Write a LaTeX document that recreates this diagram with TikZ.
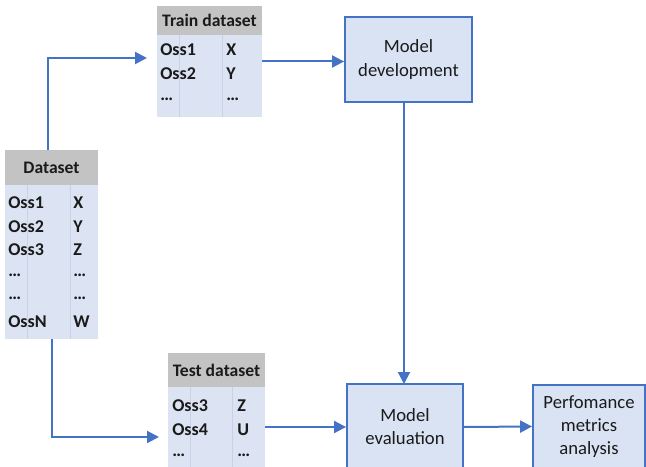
\documentclass[tikz,border=0pt]{standalone}
\usepackage{fontspec}
\setmainfont{Carlito}
\usetikzlibrary{arrows.meta,fit}
\definecolor{boxfill}{HTML}{DAE3F3}
\definecolor{boxline}{HTML}{4472C4}
\definecolor{tabfill}{HTML}{DCE4F3}
\definecolor{hdrfill}{HTML}{C3C3C3}
\definecolor{divline}{HTML}{C8D2E6}
\definecolor{txtcol}{HTML}{1A1A1A}
\tikzset{
  procbox/.style={draw=boxline, fill=boxfill, line width=1.4pt, align=center,
    text=txtcol, font=\fontsize{14}{17.3}\selectfont, inner sep=0pt},
  cell/.style={font=\bfseries\fontsize{13.5}{14}\selectfont, text=txtcol, inner sep=0pt, anchor=west},
  hdrtxt/.style={font=\bfseries\fontsize{13.2}{14}\selectfont, text=txtcol, inner sep=0pt},
  tabbody/.style={fill=tabfill},
  tabhead/.style={fill=hdrfill},
  divider/.style={draw=divline, line width=0.6pt},
  flow/.style={draw=boxline, line width=1.5pt, -{Triangle[length=9pt,width=9pt]}},
}
\begin{document}
\begin{tikzpicture}[x=0.75pt,y=-0.75pt]
\useasboundingbox (0,0) rectangle (646,467);

% ---------- Dataset table ----------
\fill[tabbody] (5,185) rectangle (98,339);
\fill[tabhead] (5,150) rectangle (98,185);
\draw[divider] (27,185) -- (27,339) (70,185) -- (70,339);
\node[fit={(5,150)(98,339)}, inner sep=0pt] (ds) {};
\node[hdrtxt] (dsh) at (51.5,168) {Dataset};
\node[cell] (ds1a) at (8,203) {Oss1};  \node[cell] (ds1b) at (73,203) {X};
\node[cell] (ds2a) at (8,227) {Oss2};  \node[cell] (ds2b) at (73,227) {Y};
\node[cell] (ds3a) at (8,250) {Oss3};  \node[cell] (ds3b) at (73,250) {Z};
\node[cell] (ds4a) at (8,275) {…};     \node[cell] (ds4b) at (73,275) {…};
\node[cell] (ds5a) at (8,298) {…};     \node[cell] (ds5b) at (73,298) {…};
\node[cell] (ds6a) at (8,322) {OssN};  \node[cell] (ds6b) at (73,322) {W};

% ---------- Train dataset table ----------
\fill[tabbody] (157,35) rectangle (262,117);
\fill[tabhead] (157,6) rectangle (262,35);
\draw[divider] (179,35) -- (179,117) (222,35) -- (222,117);
\node[fit={(157,6)(262,117)}, inner sep=0pt] (tr) {};
\node[hdrtxt] (trh) at (209.5,20) {Train dataset};
\node[cell] (tr1a) at (160,50) {Oss1};  \node[cell] (tr1b) at (226,50) {X};
\node[cell] (tr2a) at (160,74) {Oss2};  \node[cell] (tr2b) at (226,74) {Y};
\node[cell] (tr3a) at (160,99) {…};     \node[cell] (tr3b) at (226,99) {…};

% ---------- Test dataset table ----------
\fill[tabbody] (168,387) rectangle (265,470);
\fill[tabhead] (168,353) rectangle (265,387);
\draw[divider] (190,387) -- (190,470) (232,387) -- (232,470);
\node[fit={(168,353)(265,470)}, inner sep=0pt] (te) {};
\node[hdrtxt] (teh) at (216.5,370) {Test dataset};
\node[cell] (te1a) at (172,406) {Oss3};  \node[cell] (te1b) at (237,406) {Z};
\node[cell] (te2a) at (172,430) {Oss4};  \node[cell] (te2b) at (237,430) {U};
\node[cell] (te3a) at (172,455) {…};     \node[cell] (te3b) at (237,455) {…};

% ---------- Process boxes ----------
\node[procbox, minimum width=95.25pt, minimum height=63.75pt] (md) at (408.5,59.5) {Model\\development};
\node[procbox, minimum width=87pt, minimum height=64.5pt] (me) at (405,427) {Model\\evaluation};
\node[procbox, minimum width=84pt, minimum height=62.25pt] (pa) at (589,426.5) {Perfomance\\metrics\\analysis};

% ---------- Connectors ----------
\coordinate (dsTop) at (48,150);
\coordinate (trIn) at (147,58);
\coordinate (dsBot) at (52,339);
\coordinate (teIn) at (159,437);
\coordinate (mdOut) at (404,102);
\coordinate (meIn) at (404,384);

\draw[flow] (dsTop) |- (trIn);
\draw[flow] (dsBot) |- (teIn);
\draw[flow] (tr.east) -- (tr.east -| md.west);
\draw[flow] (mdOut) -- (meIn);
\draw[flow] (te.east |- me.west) -- (me.west);
\draw[flow] (me.east) -- (pa.west);
\end{tikzpicture}
\end{document}
